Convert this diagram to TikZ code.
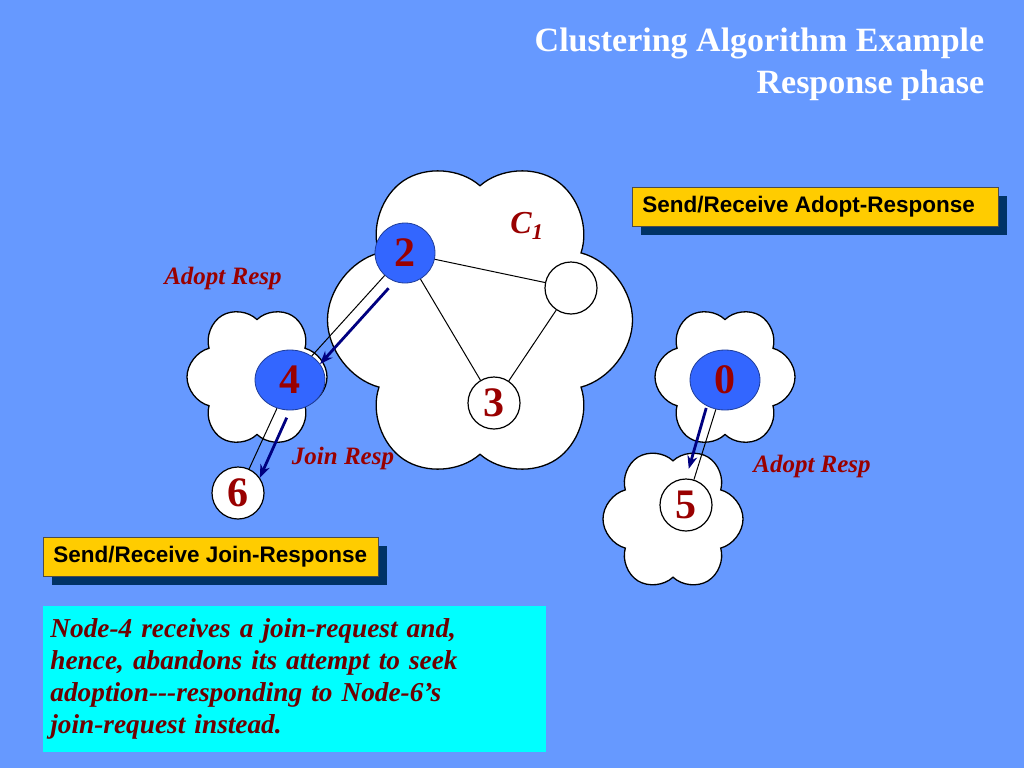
\documentclass[tikz,border=0pt]{standalone}
\usepackage{fontspec}
\setmainfont{Liberation Serif}
\setsansfont{Liberation Sans}
\usepackage{xcolor}
\usepackage{tikz}
\usetikzlibrary{shapes}
\usetikzlibrary{shapes.symbols}
\usetikzlibrary{shapes.geometric}
\usetikzlibrary{positioning}
\usetikzlibrary{arrows.meta}
\usetikzlibrary{shadows}
\definecolor{slidebg}{RGB}{102,153,255}
\definecolor{nodeblue}{RGB}{51,102,255}
\definecolor{numred}{RGB}{153,0,0}
\definecolor{notered}{RGB}{110,0,0}
\definecolor{arrownavy}{RGB}{0,0,128}
\definecolor{boxyellow}{RGB}{255,204,0}
\definecolor{boxshadow}{RGB}{0,51,102}
\definecolor{notecyan}{RGB}{0,255,255}
\tikzset{
    mycloud/.style = {cloud, cloud puffs=6, cloud puff arc=150, rotate=90, draw=black, fill=white, line width=1.3pt, inner sep=0pt},
    mynode/.style = {circle, draw=black, fill=white, line width=1.2pt, minimum size=52pt, inner sep=0pt, text=numred, font=\fontsize{42}{42}\selectfont\bfseries},
    mynodeb/.style = {ellipse, draw=nodeblue!60!black, fill=nodeblue, line width=0.8pt, minimum width=70pt, minimum height=60pt, inner sep=0pt, text=numred, font=\fontsize{42}{42}\selectfont\bfseries},
    mylabel/.style = {text=numred, font=\fontsize{25}{25}\selectfont\bfseries\itshape},
    myarrow/.style = {draw=arrownavy, line width=2.8pt, -{Stealth[length=13pt, width=10pt]}},
    mybox/.style = {draw=black!70, line width=0.8pt, fill=boxyellow, anchor=west, inner xsep=10pt, minimum height=39pt, font=\sffamily\bfseries\fontsize{22.5}{22.5}\selectfont, drop shadow={shadow xshift=9pt, shadow yshift=-9pt, fill=boxshadow, opacity=1}},
}
\begin{document}
\begin{tikzpicture}[x=1pt, y=-1pt, thick]
  \fill[slidebg] (0,0) rectangle (1024,768);
  \useasboundingbox (0,0) rectangle (1024,768);

  \node[anchor=north east, align=right, text=white, font=\fontsize{34}{42}\selectfont\bfseries] (title) at (988,24) {Clustering Algorithm Example\\Response phase};

  \node[mycloud, minimum width=322pt, minimum height=305pt] (bigcloud) at (480,320) {};
  \node[mycloud, minimum width=142pt, minimum height=140pt] (cloud4) at (257,377) {};
  \node[mycloud, minimum width=142pt, minimum height=140pt] (cloud0) at (725,377) {};
  \node[mycloud, minimum width=143pt, minimum height=140pt] (cloud5) at (673,519) {};

  \node[mynodeb, ellipse, minimum width=60pt] (n2) at (405,253) {2};
  \node[mynode] (nx) at (571,288) {};
  \node[mynode] (n3) at (494,403) {3};
  \node[mynodeb] (n4) at (290,380) {4};
  \node[mynode] (n6) at (238,493) {6};
  \node[mynodeb] (n0) at (725,380) {0};
  \node[mynode] (n5) at (686,505) {5};

  \node[mylabel, font=\fontsize{32}{32}\selectfont\bfseries\itshape] (c1) at (527,226) {C\textsubscript{1}};
  \node[mylabel] (adopt1) at (223,278) {Adopt Resp};
  \node[mylabel] (join) at (343,458) {Join Resp};
  \node[mylabel] (adopt2) at (812,466) {Adopt Resp};

  \draw[line width=1pt] (n2) -- (nx);
  \draw[line width=1pt] (n2) -- (n3);
  \draw[line width=1pt] (nx) -- (n3);
  \draw[line width=1pt] (n2) -- (n4);
  \draw[line width=1pt] (n4) -- (n6);
  \draw[line width=1pt] (n0) -- (n5);

  \draw[myarrow, shorten <=9pt] (n2.250) -- (n4.28);
  \draw[myarrow, shorten <=8pt] (n4.-90) -- (n6.35);
  \draw[myarrow, shorten <=2pt, shorten >=10pt] (n0.235) -- (n5.north);

  \node[mybox] (adoptbox) at (632,206.5) {\makebox[346pt][l]{Send/Receive Adopt-Response}};
  \node[mybox] (joinbox) at (43,556.5) {\makebox[315pt][l]{Send/Receive Join-Response}};

  \node[anchor=north west, fill=notecyan, minimum width=503pt, minimum height=146pt, text width=489pt, inner xsep=7pt, inner ysep=7pt, align=left, text=notered, font=\fontsize{27.3}{32}\selectfont\bfseries\itshape] (note) at (43,606) {Node-4 receives a join-request and,\\hence, abandons its attempt to seek\\adoption-{}-{}-responding to Node-6’s\\join-request instead.};
\end{tikzpicture}
\end{document}
